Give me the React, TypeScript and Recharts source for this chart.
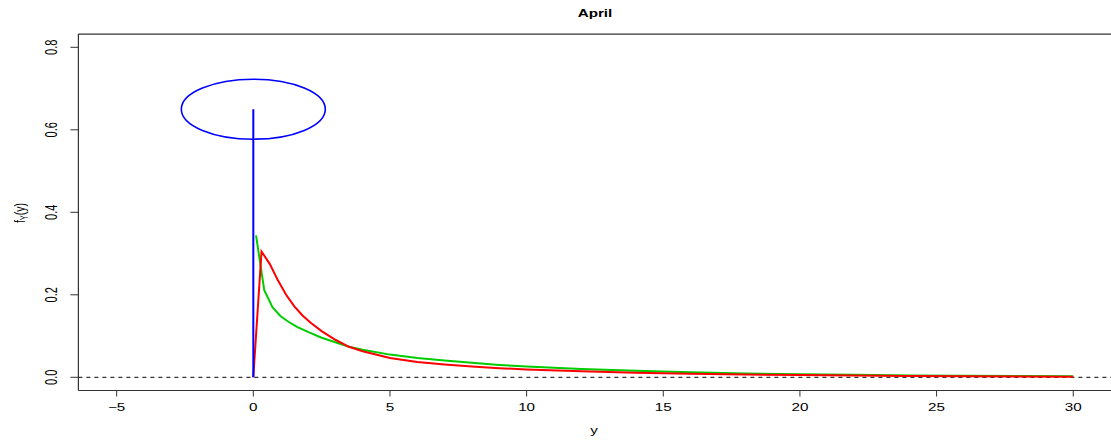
import { LineChart, Line, XAxis, YAxis, ReferenceLine, ReferenceDot } from "recharts";

// density curves for April, x grid and f_Y(y) values
const greenX = [0.1, 0.4, 0.7, 1.0, 1.3, 1.6, 2.0, 2.5, 3.0, 3.5, 4, 5, 6, 7, 8, 9, 10, 12, 14, 16, 18, 20, 22, 24, 26, 28, 30];
const greenY = [0.344, 0.211, 0.17, 0.148, 0.134, 0.122, 0.11, 0.096, 0.085, 0.074, 0.067, 0.055, 0.047, 0.041, 0.035, 0.03, 0.026, 0.02, 0.0157, 0.0125, 0.0092, 0.0075, 0.006, 0.0045, 0.0036, 0.003, 0.0024];

const redX = [0, 0.3, 0.6, 0.9, 1.2, 1.5, 1.8, 2.1, 2.5, 3.0, 3.5, 4, 5, 6, 7, 8, 9, 10, 12, 14, 16, 18, 20, 22, 24, 26, 28, 30];
const redY = [0, 0.305, 0.275, 0.235, 0.2, 0.172, 0.15, 0.132, 0.112, 0.091, 0.074, 0.063, 0.047, 0.037, 0.031, 0.026, 0.022, 0.019, 0.0145, 0.0113, 0.0088, 0.0068, 0.0055, 0.0043, 0.0033, 0.0025, 0.002, 0.0015];

// point mass at zero
const massX = [0, 0];
const massY = [0, 0.65];

const xTicks = [-5, 0, 5, 10, 15, 20, 25, 30];
const yTicks = [0, 0.2, 0.4, 0.6, 0.8];
const yTop = 0.832;

const greenData = greenX.map((x, i) => ({ x, y: greenY[i] }));
const redData = redX.map((x, i) => ({ x, y: redY[i] }));
const massData = massX.map((x, i) => ({ x, y: massY[i] }));

const FONT = "'Liberation Sans', Arial, Helvetica, sans-serif";
const SX = 1.45; // text is drawn wide

const XTick = ({ x, y, payload }: any) => {
  const v = payload.value;
  const label = v < 0 ? "\u2212" + Math.abs(v) : String(v);
  return (
    <text
      transform={`translate(${x},${y + 14}) scale(${SX},1)`}
      textAnchor="middle"
      fontFamily={FONT}
      fontSize={10.5}
      fill="#000"
    >
      {label}
    </text>
  );
};

const YTick = ({ x, y, payload }: any) => (
  <text
    transform={`translate(${x - 13.8},${y}) scale(${SX},1) rotate(-90)`}
    textAnchor="middle"
    fontFamily={FONT}
    fontSize={11}
    fill="#000"
  >
    {payload.value.toFixed(1)}
  </text>
);

const MassRing = ({ cx, cy }: any) => (
  <ellipse cx={cx} cy={cy} rx={72} ry={30} fill="none" stroke="#0000ff" strokeWidth={1.6} />
);

export default function App() {
  return (
    <div style={{ position: "absolute", left: 0, top: 0, background: "#fff" }}>
      {/* plot region ends just past the right edge of the svg */}
      <LineChart
        width={1111}
        height={440}
        margin={{ top: 34.1, right: -0.5, bottom: 48.5, left: 77.4 }}
      >
        <XAxis
          type="number"
          dataKey="x"
          domain={[-6.4, 31.4]}
          ticks={xTicks}
          allowDataOverflow
          height={1}
          tickSize={6}
          tickMargin={0}
          tick={<XTick />}
          axisLine={{ stroke: "#333", strokeWidth: 1.2 }}
          tickLine={{ stroke: "#333" }}
        />
        <YAxis
          type="number"
          domain={[-0.032, yTop]}
          ticks={yTicks}
          allowDataOverflow
          width={1}
          tickSize={8}
          tickMargin={0}
          tick={<YTick />}
          axisLine={{ stroke: "#333", strokeWidth: 1.2 }}
          tickLine={{ stroke: "#333" }}
        />
        <ReferenceLine y={yTop} stroke="#333" strokeWidth={1.2} />
        <ReferenceLine y={0} stroke="#000" strokeDasharray="4 4" strokeWidth={1} />
        <Line
          data={greenData}
          dataKey="y"
          type="linear"
          stroke="#00cd00"
          strokeWidth={2}
          dot={false}
          isAnimationActive={false}
        />
        <Line
          data={redData}
          dataKey="y"
          type="linear"
          stroke="#ff0000"
          strokeWidth={2}
          dot={false}
          isAnimationActive={false}
        />
        <Line
          data={massData}
          dataKey="y"
          type="linear"
          stroke="#0000ff"
          strokeWidth={2}
          dot={false}
          isAnimationActive={false}
        />
        <ReferenceDot x={0} y={0.65} shape={<MassRing />} />
        <text
          transform={`translate(595,16.7) scale(${SX},1)`}
          textAnchor="middle"
          fontFamily={FONT}
          fontSize={10.5}
          fontWeight="bold"
          fill="#000"
        >
          April
        </text>
        <text
          transform={`translate(594,434) scale(${SX},1)`}
          textAnchor="middle"
          fontFamily={FONT}
          fontSize={10.5}
          fill="#000"
        >
          y
        </text>
        <text
          transform={`translate(24.5,213) scale(${SX},1) rotate(-90)`}
          textAnchor="middle"
          fontFamily={FONT}
          fontSize={10.5}
          fill="#000"
        >
          f
          <tspan fontSize={7.5} dy={2.5}>Y</tspan>
          <tspan dy={-2.5}>(y)</tspan>
        </text>
      </LineChart>
    </div>
  );
}
